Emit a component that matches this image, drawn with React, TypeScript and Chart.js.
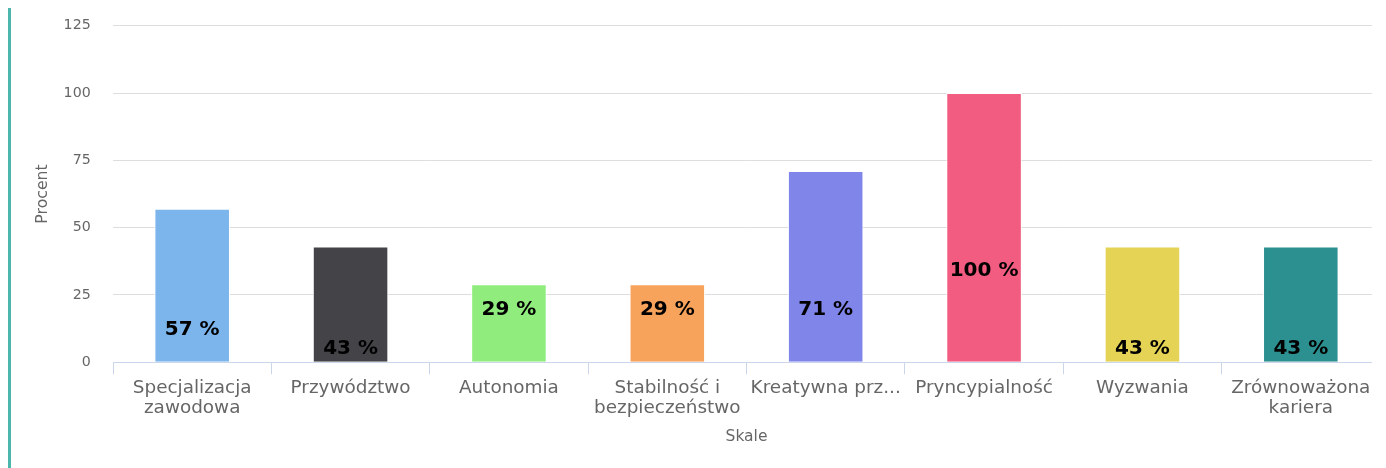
import React, { useEffect, useRef } from "react";
import { Chart, registerables } from "chart.js";

Chart.register(...registerables);

const categories: (string | string[])[] = [
  ["Specjalizacja", "zawodowa"],
  "Przywództwo",
  "Autonomia",
  ["Stabilność i", "bezpieczeństwo"],
  "Kreatywna prz...",
  "Pryncypialność",
  "Wyzwania",
  ["Zrównoważona", "kariera"],
];
const values = [57, 43, 29, 29, 71, 100, 43, 43];
const barColors = [
  "#7cb5ec",
  "#434348",
  "#90ed7d",
  "#f7a35c",
  "#8085e9",
  "#f15c80",
  "#e4d354",
  "#2b908f",
];
// value (on the y scale) at which each data label is centred
const labelAnchors = [12, 5.2, 19.4, 19.4, 19.4, 33.9, 5.2, 5.2];
const yTicks = [0, 25, 50, 75, 100, 125];

const FONT = "'DejaVu Sans', Verdana, sans-serif";

const dataLabelPlugin = {
  id: "dataLabelPlugin",
  afterDatasetsDraw(chart: any) {
    const meta = chart.getDatasetMeta(0);
    const yScale = chart.scales.y;
    const ctx = chart.ctx;
    ctx.save();
    ctx.font = `bold 20px ${FONT}`;
    ctx.fillStyle = "#000000";
    ctx.textAlign = "center";
    ctx.textBaseline = "middle";
    meta.data.forEach((bar: any, i: number) => {
      const y = yScale.getPixelForValue(labelAnchors[i]);
      ctx.fillText(`${values[i]} %`, bar.x, y);
    });
    ctx.restore();
  },
};

export default function App() {
  const ref = useRef<HTMLCanvasElement | null>(null);
  useEffect(() => {
    if (!ref.current) return;
    const chart = new Chart(ref.current, {
      type: "bar",
      data: {
        labels: categories as any,
        datasets: [
          {
            data: values,
            backgroundColor: barColors,
            borderColor: "#ffffff",
            borderWidth: 1,
            barPercentage: 0.477,
            categoryPercentage: 1,
          },
        ],
      },
      options: {
        animation: false,
        responsive: true,
        maintainAspectRatio: false,
        layout: { padding: { top: 17.7, right: 0, left: 0, bottom: 0 } },
        plugins: {
          legend: { display: false },
          tooltip: { enabled: false },
        },
        scales: {
          x: {
            offset: true,
            grid: {
              drawOnChartArea: false,
              drawTicks: true,
              tickLength: 12,
              color: "#ccd6eb",
              offset: true,
            },
            border: { display: true, color: "#ccd6eb", width: 1 },
            ticks: {
              color: "#666666",
              font: { family: FONT, size: 18.4, lineHeight: "20px" } as any,
              padding: 3.5,
              maxRotation: 0,
              autoSkip: false,
            },
            title: {
              display: true,
              text: "Skale",
              color: "#666666",
              font: { family: FONT, size: 15.5, lineHeight: 1.2 },
              padding: { top: 0, bottom: 22 },
            },
            afterFit: (s: any) => {
              s.height = 105.7;
            },
          },
          y: {
            min: 0,
            max: 125,
            afterBuildTicks: (s: any) => {
              s.ticks = yTicks.map((v) => ({ value: v }));
            },
            grid: { color: "#dddddd", drawTicks: false, lineWidth: 1 },
            border: { display: false },
            ticks: {
              color: "#666666",
              font: { family: FONT, size: 14.2 },
              padding: 22.3,
            },
            title: {
              display: true,
              text: "Procent",
              color: "#666666",
              font: { family: FONT, size: 15.7, lineHeight: 1.2 },
              padding: { top: 22.7, bottom: 0 },
            },
            afterFit: (s: any) => {
              s.width = 102;
              s.paddingTop = 8;
              s.paddingBottom = 8;
            },
          },
        },
      },
      plugins: [dataLabelPlugin],
    });
    return () => chart.destroy();
  }, []);

  return (
    <div
      style={{
        borderLeft: "3px solid #4db6ac",
        width: 1361,
        height: 460,
        overflow: "hidden",
        position: "relative",
      }}
    >
      <div style={{ width: 1369, height: 460, position: "relative" }}>
        <canvas ref={ref} />
      </div>
    </div>
  );
}
